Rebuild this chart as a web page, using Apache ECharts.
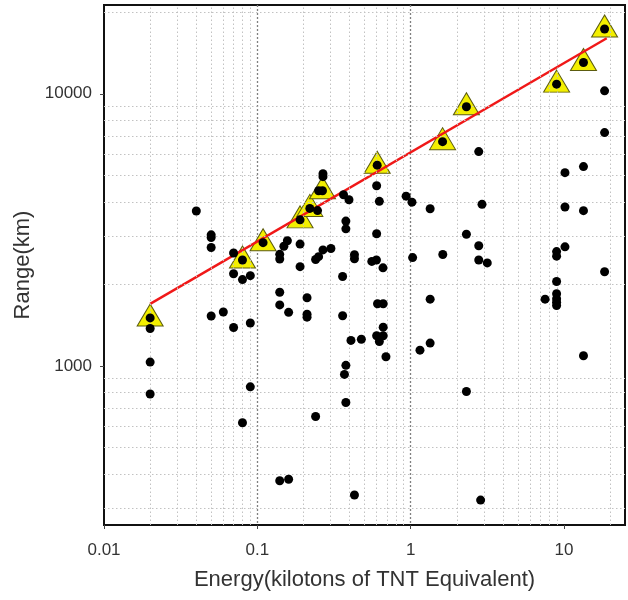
<!DOCTYPE html>
<html>
<head>
<meta charset="utf-8">
<script src="https://cdn.jsdelivr.net/npm/echarts@6/dist/echarts.min.js"></script>
<style>
  html, body { margin: 0; padding: 0; background: #fff; }
  #chart { width: 628px; height: 600px; }
</style>
</head>
<body>
<div id="chart"></div>
<script>
  // all events: energy (kt) / range (km)
  var dotX = [0.02, 0.02, 0.02, 0.02, 0.04, 0.05, 0.05, 0.05, 0.05, 0.06,
    0.07, 0.07, 0.07, 0.08, 0.08, 0.08, 0.09, 0.09, 0.09, 0.109,
    0.14, 0.14, 0.14, 0.14, 0.14, 0.149, 0.157, 0.16, 0.16,
    0.19, 0.19, 0.19, 0.211, 0.211, 0.211, 0.22, 0.24, 0.251, 0.24,
    0.247, 0.251, 0.266, 0.268, 0.268, 0.268, 0.302,
    0.365, 0.396, 0.378, 0.378, 0.378, 0.37, 0.378, 0.36, 0.36,
    0.408, 0.477, 0.43, 0.43, 0.43,
    0.605, 0.6, 0.625, 0.6, 0.558, 0.598, 0.66,
    0.608, 0.662, 0.662, 0.6, 0.662, 0.625, 0.69,
    0.934, 1.02, 1.03, 1.15, 1.34, 1.34, 1.34, 1.615, 1.62,
    2.31, 2.31, 2.31, 2.78, 2.78, 2.78, 3.16, 2.92, 2.86, 7.53,
    8.95, 8.95, 8.95, 8.95, 8.95, 8.95, 8.95, 8.95,
    10.15, 10.15, 10.15, 13.4, 13.4, 13.4, 13.4,
    18.4, 18.4, 18.4, 18.4];
  var dotY = [1500, 1372, 1032, 788, 3707, 3030, 2960, 2722, 1525, 1577,
    2598, 2180, 1383, 2450, 2075, 618, 2145, 1437, 837, 2836,
    2570, 2470, 1864, 1675, 378, 2752, 2882, 1573, 383,
    3440, 2802, 2315, 1780, 1547, 1510, 3790, 2460, 2520, 651,
    3720, 4400, 4400, 5080, 4960, 2667, 2700,
    4255, 4080, 3405, 3188, 1004, 930, 733, 2130, 1528,
    1240, 1252, 2560, 2475, 335,
    5465, 4590, 4025, 3060, 2420, 2450, 2292,
    1691, 1691, 1387, 1290, 1290, 1228, 1080,
    4205, 3995, 2500, 1142, 3780, 1758, 1212, 6668, 2565,
    8960, 3045, 805, 6130, 2762, 2450, 2389, 3922, 321, 1758,
    10850, 2630, 2530, 2042, 1842, 1764, 1714, 1666,
    5130, 3835, 2738, 13030, 5400, 3718, 1089,
    17300, 10250, 7200, 2218];

  // maximum range points (triangles)
  var maxX = [0.02, 0.08, 0.109, 0.19, 0.22, 0.266, 0.605, 1.615, 2.31, 8.95, 13.4, 18.4];
  var maxY = [1500, 2450, 2836, 3440, 3790, 4400, 5465, 6668, 8960, 10850, 13030, 17300];

  // fitted line end points
  var fitX = [0.02, 19];
  var fitY = [1690, 16000];

  var xTicks = [0.01, 0.1, 1, 10];
  var yTicks = [1000, 10000];
  var xMinor = [0.02, 0.03, 0.04, 0.05, 0.06, 0.07, 0.08, 0.09,
    0.2, 0.3, 0.4, 0.5, 0.6, 0.7, 0.8, 0.9, 2, 3, 4, 5, 6, 7, 8, 9, 20];
  var yMinor = [300, 400, 500, 600, 700, 800, 900,
    2000, 3000, 4000, 5000, 6000, 7000, 8000, 9000, 20000];

  function zip(a, b) {
    return a.map(function (v, i) { return [v, b[i]]; });
  }

  var fontFam = '"Liberation Sans", Arial, sans-serif';
  var minorLines = xMinor.map(function (v) { return { xAxis: v }; })
    .concat(yMinor.map(function (v) { return { yAxis: v }; }));

  var option = {
    animation: false,
    grid: {
      left: 104, right: 3, top: 5, bottom: 75,
      show: true, borderColor: '#111', borderWidth: 2, backgroundColor: '#fff'
    },
    xAxis: {
      type: 'log',
      logBase: 10,
      min: 0.01,
      max: 25,
      name: 'Energy(kilotons of TNT Equivalent)',
      nameLocation: 'middle',
      nameGap: 44,
      nameTextStyle: { fontSize: 22, color: '#333', fontFamily: fontFam },
      axisLine: { lineStyle: { color: '#111', width: 2 } },
      axisTick: { customValues: xTicks, inside: false, length: 4, lineStyle: { color: '#444' } },
      axisLabel: {
        customValues: xTicks,
        margin: 17,
        fontSize: 17,
        color: '#333',
        fontFamily: fontFam,
        formatter: function (v) { return String(v); }
      },
      splitLine: {
        show: true, showMinLine: false, showMaxLine: false,
        lineStyle: { color: '#808080', width: 1.3, type: [2, 2] }
      }
    },
    yAxis: {
      type: 'log',
      logBase: 10,
      min: 260,
      max: 21200,
      name: 'Range(km)',
      nameLocation: 'middle',
      nameGap: 59,
      nameTextStyle: { fontSize: 22, color: '#333', fontFamily: fontFam },
      axisLine: { lineStyle: { color: '#111', width: 2 } },
      axisTick: { customValues: yTicks, inside: false, length: 4, lineStyle: { color: '#444' } },
      axisLabel: {
        customValues: yTicks,
        margin: 12,
        fontSize: 17,
        color: '#333',
        fontFamily: fontFam,
        formatter: function (v) { return String(v); }
      },
      splitLine: {
        show: true, showMinLine: false, showMaxLine: false,
        lineStyle: { color: '#808080', width: 1.3, type: [2, 2] }
      }
    },
    series: [
      {
        name: 'minor grid',
        type: 'scatter',
        data: [],
        silent: true,
        z: 1,
        markLine: {
          silent: true,
          symbol: 'none',
          label: { show: false },
          lineStyle: { color: '#c2c2c2', width: 1, type: [1.5, 2.5] },
          data: minorLines
        }
      },
      {
        name: 'max range',
        type: 'scatter',
        data: zip(maxX, maxY),
        symbol: 'triangle',
        symbolSize: [26, 22],
        symbolOffset: [0, -3],
        itemStyle: { color: '#f3ef00', borderColor: '#5c5c10', borderWidth: 1, opacity: 1 },
        z: 3
      },
      {
        name: 'fit',
        type: 'line',
        data: zip(fitX, fitY),
        symbol: 'none',
        lineStyle: { color: '#f01818', width: 2.4 },
        z: 4
      },
      {
        name: 'events',
        type: 'scatter',
        data: zip(dotX, dotY),
        symbolSize: 9,
        itemStyle: { color: '#000', opacity: 1 },
        z: 5
      }
    ]
  };

  var chart = echarts.init(document.getElementById('chart'));
  chart.setOption(option);
</script>
</body>
</html>
